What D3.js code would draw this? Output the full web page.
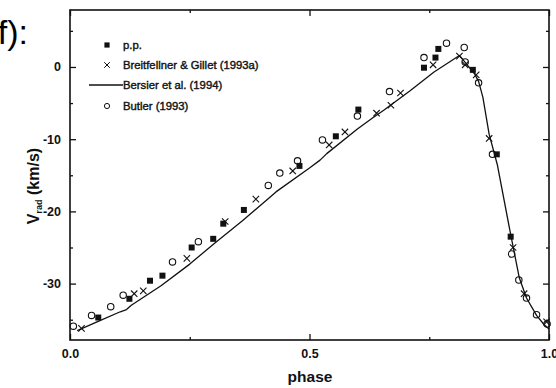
<!DOCTYPE html>
<html>
<head>
<meta charset="utf-8">
<script src="https://cdn.jsdelivr.net/npm/d3@7"></script>
<style>
  html, body { margin: 0; padding: 0; background: #fff; }
  svg { display: block; font-family: "Liberation Sans", Arial, sans-serif; }
</style>
</head>
<body>
<svg id="chart" width="556" height="388"></svg>
<script>
// Radial velocity curve vs. pulsation phase

// p.p. (filled squares)
const ppPhase = [0.059, 0.124, 0.167, 0.193, 0.254, 0.299, 0.320, 0.363, 0.479, 0.555, 0.602, 0.739, 0.763, 0.769, 0.841, 0.891, 0.920];
const ppVrad  = [-34.7, -32.1, -29.6, -28.9, -25.0, -23.8, -21.7, -19.8, -13.7, -9.6, -5.9, -0.1, 1.3, 2.5, -0.4, -12.1, -23.5];

// Breitfellner & Gillet (1993a) (crosses)
const bgPhase = [0.024, 0.134, 0.153, 0.244, 0.324, 0.388, 0.465, 0.541, 0.574, 0.640, 0.670, 0.690, 0.758, 0.813, 0.825, 0.848, 0.875, 0.925, 0.948, 0.995];
const bgVrad  = [-36.2, -31.4, -31.0, -26.5, -21.4, -18.3, -14.4, -10.8, -9.0, -6.4, -5.3, -3.6, 0.3, 1.5, 0.3, -1.1, -9.9, -25.0, -31.4, -35.3];

// Bersier et al. (1994) (model curve)
const bersierPhase = [0.015, 0.060, 0.105, 0.118, 0.128, 0.190, 0.250, 0.300, 0.360, 0.418, 0.430, 0.500, 0.522, 0.536, 0.600, 0.633, 0.655, 0.710, 0.760, 0.813, 0.828, 0.845, 0.853, 0.862, 0.875, 0.892, 0.920, 0.938, 0.953, 0.974, 0.990, 1.000];
const bersierVrad  = [-36.5, -35.2, -33.9, -33.6, -33.0, -30.3, -27.3, -24.5, -21.3, -18.0, -17.3, -14.0, -12.9, -12.0, -8.6, -7.0, -6.0, -3.3, -0.7, 1.6, 0.4, -1.0, -2.0, -4.2, -9.3, -13.5, -23.2, -29.2, -32.0, -34.4, -35.7, -36.3];

// Butler (1993) (open circles)
const butlerPhase = [0.007, 0.045, 0.085, 0.111, 0.214, 0.268, 0.414, 0.438, 0.475, 0.527, 0.600, 0.667, 0.739, 0.786, 0.823, 0.825, 0.853, 0.882, 0.922, 0.937, 0.953, 0.974, 0.996];
const butlerVrad  = [-35.9, -34.4, -33.2, -31.6, -27.0, -24.2, -16.4, -14.7, -13.0, -10.1, -6.8, -3.4, 1.3, 3.3, 2.7, 0.7, -2.2, -12.1, -25.9, -29.5, -32.0, -34.3, -35.6];

const xMajor = [0, 0.5, 1];
const xMinor = [0.25, 0.75];
const yMajor = [0, -10, -20, -30];
const yMinor = [5, -5, -15, -25, -35];

const legendLabels = ["p.p.", "Breitfellner & Gillet (1993a)", "Bersier et al. (1994)", "Butler (1993)"];

const svg = d3.select("#chart");
const plot = { left: 70, right: 549, top: 10, bottom: 340 };

const x = d3.scaleLinear().domain([0, 1]).range([plot.left, plot.right]);
const y = d3.scaleLinear().domain([-37.81, 7.89]).range([plot.bottom, plot.top]);

const ink = "#111";

// panel caption, partly off the left edge
svg.append("text")
  .attr("x", 28).attr("y", 44)
  .attr("text-anchor", "end")
  .attr("font-size", 34)
  .attr("fill", "#000")
  .text("(f):");

// axes with inward ticks
const fmtX = d3.format(".1f");
const fmtY = d => String(d);   // plain hyphen minus
const bottomAxis = d3.axisBottom(x).tickValues(xMajor).tickSize(-6).tickPadding(9).tickFormat(fmtX);
const bottomMinor = d3.axisBottom(x).tickValues(xMinor).tickSize(-3).tickFormat("");
const topAxis = d3.axisTop(x).tickValues(xMajor).tickSize(-6).tickFormat("");
const topMinor = d3.axisTop(x).tickValues(xMinor).tickSize(-3).tickFormat("");
const leftAxis = d3.axisLeft(y).tickValues(yMajor).tickSize(-6).tickPadding(9).tickFormat(fmtY);
const leftMinor = d3.axisLeft(y).tickValues(yMinor).tickSize(-3).tickFormat("");
const rightAxis = d3.axisRight(y).tickValues(yMajor).tickSize(-6).tickFormat("");
const rightMinor = d3.axisRight(y).tickValues(yMinor).tickSize(-3).tickFormat("");

function styleAxis(g) {
  g.select(".domain").remove();
  g.selectAll(".tick line").attr("stroke", ink).attr("stroke-width", 1.3);
  g.selectAll(".tick text")
    .attr("fill", ink)
    .attr("font-size", 12.5)
    .attr("font-weight", "bold")
    .attr("font-family", "'Liberation Sans', Arial, sans-serif");
}

svg.append("g").attr("transform", `translate(0,${plot.bottom})`).call(bottomAxis).call(styleAxis);
svg.append("g").attr("transform", `translate(0,${plot.bottom})`).call(bottomMinor).call(styleAxis);
svg.append("g").attr("transform", `translate(0,${plot.top})`).call(topAxis).call(styleAxis);
svg.append("g").attr("transform", `translate(0,${plot.top})`).call(topMinor).call(styleAxis);
svg.append("g").attr("transform", `translate(${plot.left},0)`).call(leftAxis).call(styleAxis);
svg.append("g").attr("transform", `translate(${plot.left},0)`).call(leftMinor).call(styleAxis);
svg.append("g").attr("transform", `translate(${plot.right},0)`).call(rightAxis).call(styleAxis);
svg.append("g").attr("transform", `translate(${plot.right},0)`).call(rightMinor).call(styleAxis);

// frame
svg.append("rect")
  .attr("x", plot.left).attr("y", plot.top)
  .attr("width", plot.right - plot.left).attr("height", plot.bottom - plot.top)
  .attr("fill", "none").attr("stroke", ink).attr("stroke-width", 1.6);

// axis titles
svg.append("text")
  .attr("x", 310).attr("y", 382)
  .attr("text-anchor", "middle")
  .attr("font-size", 15.5).attr("font-weight", "bold").attr("fill", ink)
  .text("phase");

const yTitle = svg.append("text")
  .attr("transform", "translate(39,186) rotate(-90)")
  .attr("text-anchor", "middle")
  .attr("font-size", 16).attr("font-weight", "bold").attr("fill", ink);
yTitle.append("tspan").text("V");
yTitle.append("tspan").attr("font-size", 9).attr("dy", 3).text("rad");
yTitle.append("tspan").attr("dy", -3).text(" (km/s)");

// model curve
const line = d3.line().x(d => x(d[0])).y(d => y(d[1]));
svg.append("path")
  .datum(d3.zip(bersierPhase, bersierVrad))
  .attr("d", line)
  .attr("fill", "none").attr("stroke", ink).attr("stroke-width", 1.3)
  .attr("stroke-linejoin", "round");

// marker painters
function squares(g, pts, s) {
  g.selectAll(null).data(pts).join("rect")
    .attr("x", d => x(d[0]) - s / 2).attr("y", d => y(d[1]) - s / 2)
    .attr("width", s).attr("height", s).attr("fill", ink);
}
function crosses(g, pts, h) {
  g.selectAll(null).data(pts).join("path")
    .attr("d", d => {
      const cx = x(d[0]), cy = y(d[1]);
      return `M${cx - h},${cy - h}L${cx + h},${cy + h}M${cx - h},${cy + h}L${cx + h},${cy - h}`;
    })
    .attr("stroke", ink).attr("stroke-width", 1.1).attr("fill", "none");
}
function circles(g, pts, r) {
  g.selectAll(null).data(pts).join("circle")
    .attr("cx", d => x(d[0])).attr("cy", d => y(d[1])).attr("r", r)
    .attr("fill", "none").attr("stroke", ink).attr("stroke-width", 1.1);
}

const marks = svg.append("g");
squares(marks.append("g"), d3.zip(ppPhase, ppVrad), 6);
crosses(marks.append("g"), d3.zip(bgPhase, bgVrad), 3.2);
circles(marks.append("g"), d3.zip(butlerPhase, butlerVrad), 3.2);

// legend
const legend = svg.append("g");
const rowY = [45, 65, 85, 106];
const mx = 107, tx = 123;
legend.append("rect").attr("x", mx - 2.6).attr("y", rowY[0] - 2.6).attr("width", 5.2).attr("height", 5.2).attr("fill", ink);
legend.append("path")
  .attr("d", `M${mx - 2.8},${rowY[1] - 2.8}L${mx + 2.8},${rowY[1] + 2.8}M${mx - 2.8},${rowY[1] + 2.8}L${mx + 2.8},${rowY[1] - 2.8}`)
  .attr("stroke", ink).attr("stroke-width", 1);
legend.append("line").attr("x1", 89).attr("x2", tx).attr("y1", rowY[2]).attr("y2", rowY[2])
  .attr("stroke", ink).attr("stroke-width", 1.3);
legend.append("circle").attr("cx", mx).attr("cy", rowY[3]).attr("r", 2.6)
  .attr("fill", "none").attr("stroke", ink).attr("stroke-width", 1);
legend.selectAll("text.lab").data(legendLabels).join("text")
  .attr("class", "lab")
  .attr("x", tx).attr("y", (d, i) => rowY[i] + 4)
  .attr("font-size", 11.3).attr("fill", ink)
  .attr("stroke", ink).attr("stroke-width", 0.4)
  .text(d => d);
</script>
</body>
</html>
